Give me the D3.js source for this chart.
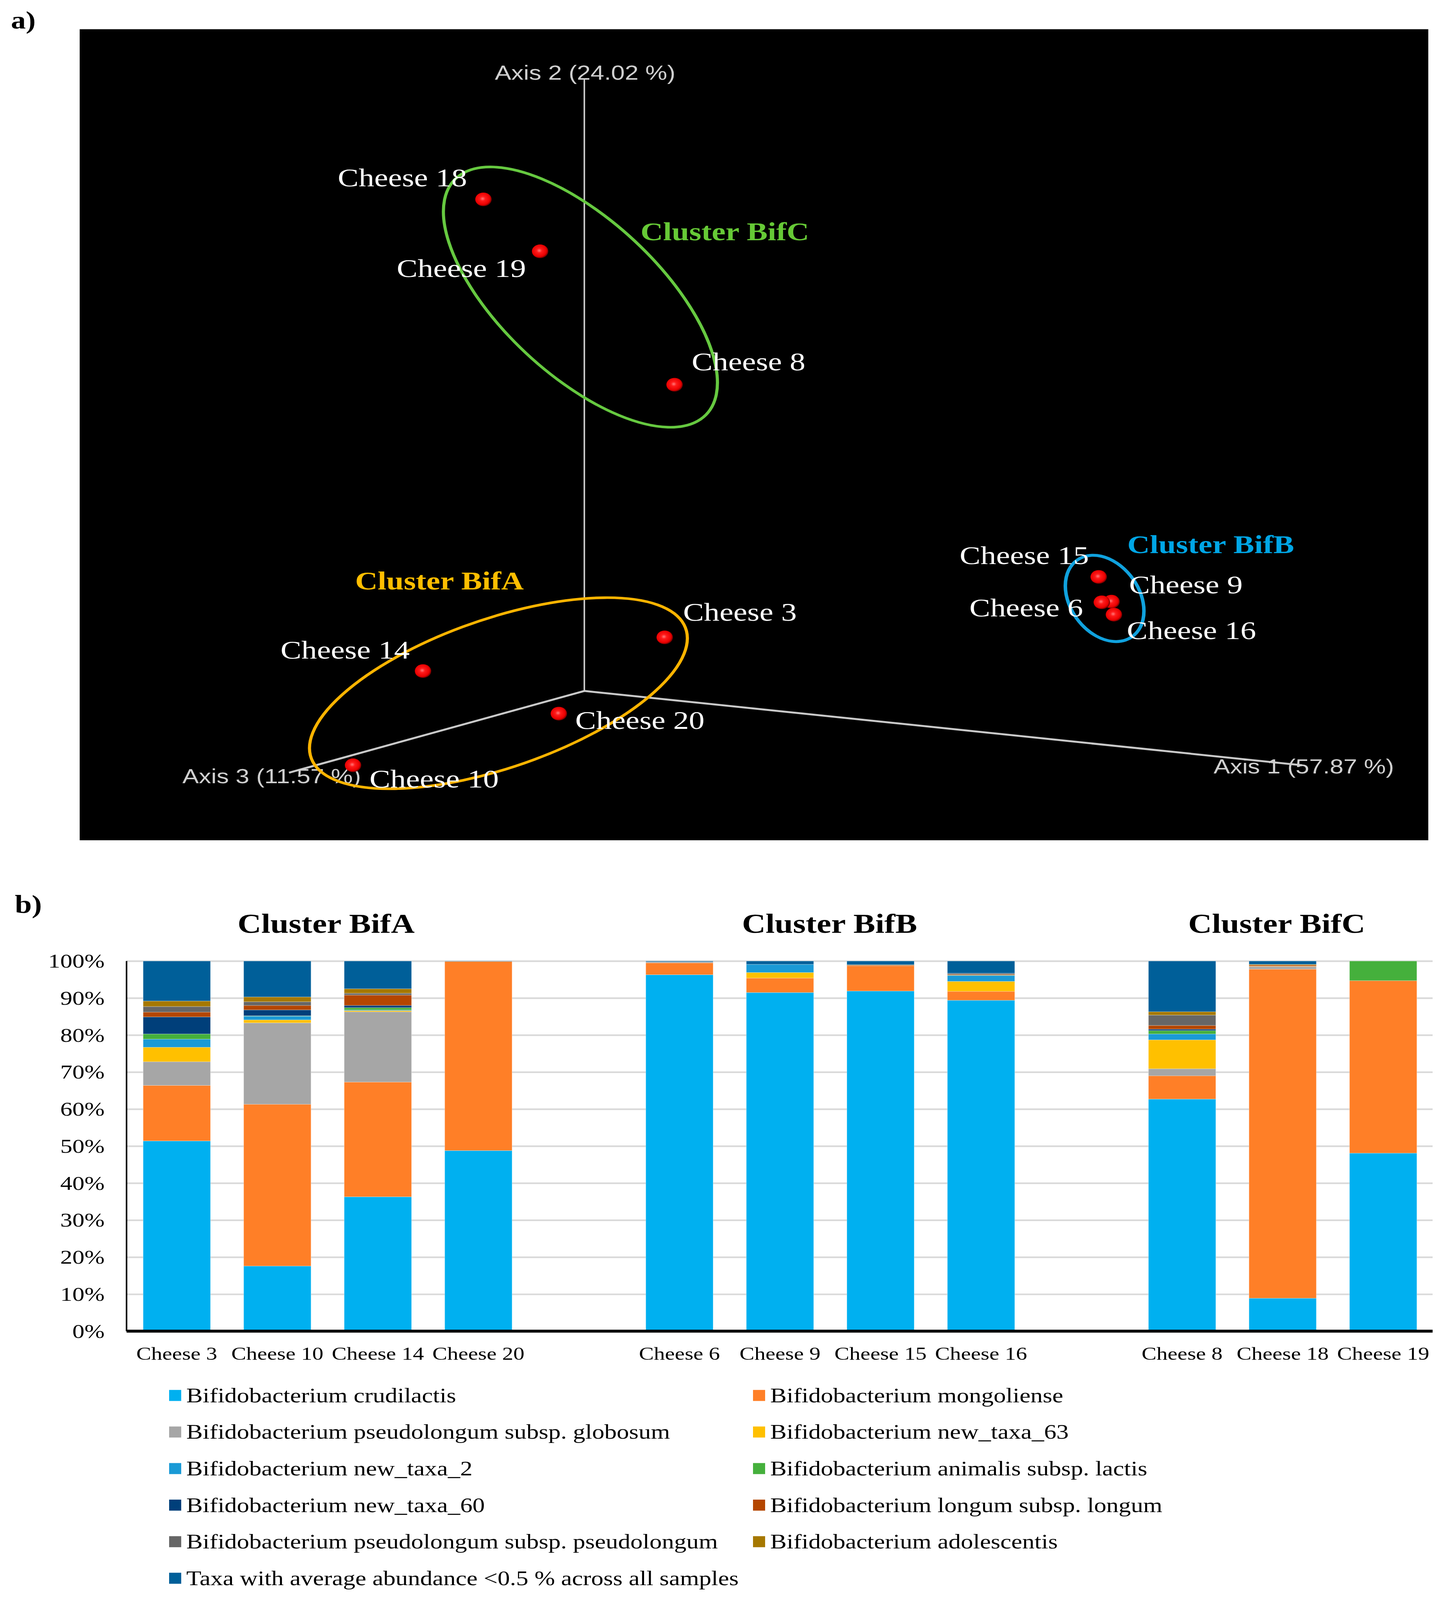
<!DOCTYPE html>
<html>
<head>
<meta charset="utf-8">
<script src="https://cdn.jsdelivr.net/npm/d3@7"></script>
<style>
  html, body { margin: 0; padding: 0; background: #ffffff; overflow: hidden; }
  svg { display: block; }
</style>
</head>
<body>
<svg id="chart"></svg>
<script>
// ---------------- DATA ----------------
// Panel a: PCoA (projected 3-D view), coordinates in projected plot units (0-100)
const pcoaSamples = ["Cheese 18","Cheese 19","Cheese 8","Cheese 15","Cheese 9","Cheese 6","Cheese 16","Cheese 3","Cheese 14","Cheese 20","Cheese 10"];
const pcoaX = [29.94, 34.14, 44.11, 75.56, 76.51, 75.79, 76.69, 43.38, 25.46, 35.53, 20.27];
const pcoaY = [79.02, 72.62, 56.17, 32.47, 29.42, 29.34, 27.82, 25.02, 20.86, 15.61, 9.25];
const axisNames = ["Axis 1 (57.87 %)", "Axis 2 (24.02 %)", "Axis 3 (11.57 %)"];
const axisOrigin = [37.42, 18.41];
const axisEndX = [90.65, 37.42, 15.52];
const axisEndY = [9.25, 93.80, 8.33];
const clusterNames = ["Cluster BifA", "Cluster BifB", "Cluster BifC"];
const clusterCx = [31.05, 76.00, 37.13];
const clusterCy = [18.13, 29.82, 66.97];

// Panel b: relative abundance (%) per taxon, per sample
const samples = ["Cheese 3","Cheese 10","Cheese 14","Cheese 20","Cheese 6","Cheese 9","Cheese 15","Cheese 16","Cheese 8","Cheese 18","Cheese 19"];
const sampleCluster = ["Cluster BifA","Cluster BifA","Cluster BifA","Cluster BifA","Cluster BifB","Cluster BifB","Cluster BifB","Cluster BifB","Cluster BifC","Cluster BifC","Cluster BifC"];
const taxa = [
  "Bifidobacterium crudilactis",
  "Bifidobacterium mongoliense",
  "Bifidobacterium pseudolongum subsp. globosum",
  "Bifidobacterium new_taxa_63",
  "Bifidobacterium new_taxa_2",
  "Bifidobacterium animalis subsp. lactis",
  "Bifidobacterium new_taxa_60",
  "Bifidobacterium longum subsp. longum",
  "Bifidobacterium pseudolongum subsp. pseudolongum",
  "Bifidobacterium adolescentis",
  "Taxa with average abundance <0.5 % across all samples"
];
//                     C3    C10   C14   C20   C6    C9    C15   C16   C8    C18   C19
const crudilactis   = [51.4, 17.6, 36.3, 48.8, 96.3, 91.5, 91.9, 89.4, 62.7,  8.9, 48.1];
const mongoliense   = [15.0, 43.7, 31.0, 51.1,  3.2,  3.9,  6.8,  2.4,  6.3, 88.9, 46.6];
const globosum      = [ 6.4, 22.0, 19.0,  0.0,  0.3,  0.0,  0.0,  0.0,  1.9,  0.7,  0.0];
const newTaxa63     = [ 3.9,  0.8,  0.3,  0.0,  0.0,  1.5,  0.0,  2.7,  7.8,  0.1,  0.0];
const newTaxa2      = [ 2.2,  1.0,  0.2,  0.0,  0.0,  2.2,  0.0,  1.6,  1.6,  0.0,  0.0];
const animalis      = [ 1.4,  0.1,  0.6,  0.0,  0.0,  0.0,  0.0,  0.1,  0.9,  0.0,  5.3];
const newTaxa60     = [ 4.6,  1.6,  0.6,  0.0,  0.0,  0.0,  0.0,  0.0,  0.4,  0.0,  0.0];
const longum        = [ 1.3,  1.2,  2.8,  0.0,  0.0,  0.0,  0.2,  0.2,  1.0,  0.3,  0.0];
const pseudolongum  = [ 1.5,  1.0,  0.5,  0.0,  0.0,  0.0,  0.0,  0.3,  2.8,  0.0,  0.0];
const adolescentis  = [ 1.5,  1.3,  1.2,  0.0,  0.0,  0.0,  0.1,  0.0,  0.9,  0.2,  0.0];
const minorTaxa     = [10.8,  9.7,  7.5,  0.1,  0.2,  0.9,  1.0,  3.3, 13.7,  0.9,  0.0];
const seriesValues = [crudilactis, mongoliense, globosum, newTaxa63, newTaxa2, animalis, newTaxa60, longum, pseudolongum, adolescentis, minorTaxa];
const yTicks = [0, 10, 20, 30, 40, 50, 60, 70, 80, 90, 100];

// ---------------- STYLE / LAYOUT ----------------
const W = 3710, H = 4928;
const taxaColors = ["#00b0f0","#ff7f27","#a6a6a6","#ffc000","#1a9ad6","#45b03c","#003f7a","#b44600","#666666","#a67800","#005f99"];
const clusterColors = {"Cluster BifA": "#ffb400", "Cluster BifB": "#10a2de", "Cluster BifC": "#66c940"};
const clusterTextColors = {"Cluster BifA": "#ffbe00", "Cluster BifB": "#00a6e6", "Cluster BifC": "#66c936"};
const serif = "'Liberation Serif', 'Times New Roman', Times, serif";
const sans = "'Liberation Sans', Arial, Helvetica, sans-serif";

// the drawing is laid out on a 3710x4928 canvas and fitted to the visible window
const viewW = window.innerWidth || W;
const viewH = window.innerHeight || H;
const svg = d3.select("#chart")
  .attr("width", viewW).attr("height", viewH)
  .attr("viewBox", `0 0 ${W} ${H}`)
  .attr("preserveAspectRatio", "none");
svg.append("rect").attr("x", 0).attr("y", 0).attr("width", W).attr("height", H).attr("fill", "#ffffff");

// ================= PANEL a =================
const panelA = {x0: 204, x1: 3657, y0: 90, y1: 2588};
svg.append("text").attr("x", 28).attr("y", 88)
  .attr("font-family", serif).attr("font-weight", "bold").attr("font-size", 76)
  .attr("fill", "#000").text("a)");

svg.append("rect")
  .attr("x", panelA.x0).attr("y", panelA.y0)
  .attr("width", panelA.x1 - panelA.x0).attr("height", panelA.y1 - panelA.y0)
  .attr("fill", "#000");

const px = d3.scaleLinear().domain([0, 100]).range([panelA.x0, panelA.x1]);
const py = d3.scaleLinear().domain([0, 100]).range([panelA.y1, panelA.y0]);

const gA = svg.append("g");

// axes
const axisWidths = [6, 4, 6];
axisNames.forEach((name, i) => {
  gA.append("line")
    .attr("x1", px(axisOrigin[0])).attr("y1", py(axisOrigin[1]))
    .attr("x2", px(axisEndX[i])).attr("y2", py(axisEndY[i]))
    .attr("stroke", "#c9c9c9").attr("stroke-width", axisWidths[i]);
});
// axis labels
const axisLabelPos = [
  {dx: -227, dy: 25, anchor: "start"},
  {dx: 2, dy: 0, anchor: "middle"},
  {dx: -273, dy: 32, anchor: "start"}
];
axisNames.forEach((name, i) => {
  gA.append("text")
    .attr("x", px(axisEndX[i]) + axisLabelPos[i].dx)
    .attr("y", py(axisEndY[i]) + axisLabelPos[i].dy)
    .attr("text-anchor", axisLabelPos[i].anchor)
    .attr("font-family", sans).attr("font-size", 63)
    .attr("fill", "#cfcfcf").text(name);
});

// cluster ellipses
const ellipseShape = {
  "Cluster BifA": {rx: 520, ry: 224, rot: -24, sw: 8},
  "Cluster BifB": {rx: 92, ry: 139, rot: -23, sw: 9},
  "Cluster BifC": {rx: 486, ry: 218, rot: 50.75, sw: 8}
};
clusterNames.forEach((c, i) => {
  const s = ellipseShape[c];
  gA.append("ellipse")
    .attr("cx", 0).attr("cy", 0).attr("rx", s.rx).attr("ry", s.ry)
    .attr("transform", `translate(${px(clusterCx[i])},${py(clusterCy[i])}) rotate(${s.rot})`)
    .attr("fill", "none").attr("stroke", clusterColors[c]).attr("stroke-width", s.sw);
});

// red sphere gradient
const defs = svg.append("defs");
const grad = defs.append("radialGradient").attr("id", "sphere")
  .attr("cx", "45%").attr("cy", "45%").attr("r", "55%");
grad.append("stop").attr("offset", "0%").attr("stop-color", "#ff7a7a");
grad.append("stop").attr("offset", "30%").attr("stop-color", "#ff1a1a");
grad.append("stop").attr("offset", "80%").attr("stop-color", "#e80000");
grad.append("stop").attr("offset", "100%").attr("stop-color", "#700000");

// points
gA.selectAll("circle.pt").data(pcoaSamples).join("circle")
  .attr("class", "pt")
  .attr("cx", (d, i) => px(pcoaX[i]))
  .attr("cy", (d, i) => py(pcoaY[i]))
  .attr("r", 21)
  .attr("fill", "url(#sphere)");

// point labels (offsets in pixels from the point)
const labelOffset = {
  "Cheese 18": [-373, -40], "Cheese 19": [-367, 79], "Cheese 8": [44, -44],
  "Cheese 15": [-356, -39], "Cheese 9": [45, -25], "Cheese 6": [-339, 43],
  "Cheese 16": [33, 75], "Cheese 3": [47, -51], "Cheese 14": [-365, -39],
  "Cheese 20": [42, 47], "Cheese 10": [42, 68]
};
gA.selectAll("text.pl").data(pcoaSamples).join("text")
  .attr("class", "pl")
  .attr("x", (d, i) => px(pcoaX[i]) + labelOffset[d][0])
  .attr("y", (d, i) => py(pcoaY[i]) + labelOffset[d][1])
  .attr("font-family", serif).attr("font-size", 80)
  .attr("fill", "#ffffff").text(d => d);

// cluster labels (offsets from ellipse centre)
const clusterLabelOffset = {"Cluster BifA": [-367, -320], "Cluster BifB": [58, -140], "Cluster BifC": [154, -175]};
clusterNames.forEach((c, i) => {
  gA.append("text")
    .attr("x", px(clusterCx[i]) + clusterLabelOffset[c][0])
    .attr("y", py(clusterCy[i]) + clusterLabelOffset[c][1])
    .attr("font-family", serif).attr("font-weight", "bold").attr("font-size", 80)
    .attr("fill", clusterTextColors[c]).text(c);
});

// ================= PANEL b =================
svg.append("text").attr("x", 38).attr("y", 2812)
  .attr("font-family", serif).attr("font-weight", "bold").attr("font-size", 78)
  .attr("fill", "#000").text("b)");

const plot = {x0: 324, x1: 3668, y0: 2960, y1: 4100};
const slots = ["Cheese 3","Cheese 10","Cheese 14","Cheese 20","gapA","Cheese 6","Cheese 9","Cheese 15","Cheese 16","gapB","Cheese 8","Cheese 18","Cheese 19"];
const x = d3.scaleBand().domain(slots).range([plot.x0, plot.x0 + 13 * 257.4])
  .paddingInner(0.33).paddingOuter(0.165);
const y = d3.scaleLinear().domain([0, 100]).range([plot.y1, plot.y0]);

const gB = svg.append("g");

// gridlines
gB.append("g")
  .attr("transform", `translate(${plot.x0},0)`)
  .call(d3.axisLeft(y).tickValues(yTicks).tickSize(-(plot.x1 - plot.x0)).tickFormat(""))
  .call(g => g.select(".domain").remove())
  .call(g => g.selectAll(".tick line").attr("stroke", "#d9d9d9").attr("stroke-width", 5));

// stacked bars
const table = samples.map((s, i) => {
  const row = {sample: s};
  taxa.forEach((t, k) => { row[t] = seriesValues[k][i]; });
  return row;
});
const stack = d3.stack().keys(taxa)(table);
const color = d3.scaleOrdinal().domain(taxa).range(taxaColors);

gB.append("g").selectAll("g").data(stack).join("g")
  .attr("fill", d => color(d.key))
  .selectAll("rect").data(d => d).join("rect")
  .attr("x", d => x(d.data.sample))
  .attr("width", x.bandwidth())
  .attr("y", d => y(d[1]))
  .attr("height", d => Math.max(0, y(d[0]) - y(d[1])))
  .attr("stroke", d => (d[1] - d[0]) > 0 ? "rgba(255,255,255,0.35)" : "none")
  .attr("stroke-width", 1.5);

// y axis labels
gB.append("g")
  .attr("transform", `translate(${plot.x0},0)`)
  .call(d3.axisLeft(y).tickValues(yTicks).tickSize(0).tickPadding(56).tickFormat(d => d + "%"))
  .call(g => g.select(".domain").remove())
  .call(g => g.selectAll("text").attr("font-family", serif).attr("font-size", 62).attr("fill", "#000"));

// y axis line
gB.append("line").attr("x1", plot.x0).attr("x2", plot.x0)
  .attr("y1", plot.y0).attr("y2", plot.y1)
  .attr("stroke", "#000").attr("stroke-width", 4);

// x axis (baseline + labels)
gB.append("g")
  .attr("transform", `translate(0,${plot.y1})`)
  .call(d3.axisBottom(x).tickSize(0).tickPadding(48).tickFormat(d => d.startsWith("gap") ? "" : d))
  .call(g => g.select(".domain").attr("d", `M${plot.x0},0H${plot.x1}`).attr("stroke", "#000").attr("stroke-width", 9))
  .call(g => g.selectAll("text").attr("font-family", serif).attr("font-size", 57).attr("fill", "#000"));

// cluster titles
const clusterTitleX = {"Cluster BifA": 835, "Cluster BifB": 2124, "Cluster BifC": 3269};
clusterNames.forEach(c => {
  gB.append("text")
    .attr("x", clusterTitleX[c]).attr("y", 2873)
    .attr("text-anchor", "middle")
    .attr("font-family", serif).attr("font-weight", "bold").attr("font-size", 84)
    .attr("fill", "#000").text(c);
});

// legend
const legend = {x0: 433, colStep: 1495, y0: 4298, rowStep: 112.6, sw: 31, sh: 34, textDx: 44};
const lg = gB.append("g");
taxa.forEach((t, i) => {
  const col = i % 2, row = Math.floor(i / 2);
  const lx = legend.x0 + col * legend.colStep;
  const ly = legend.y0 + row * legend.rowStep;
  lg.append("rect").attr("x", lx).attr("y", ly - legend.sh / 2)
    .attr("width", legend.sw).attr("height", legend.sh).attr("fill", color(t));
  lg.append("text").attr("x", lx + legend.textDx).attr("y", ly + 21)
    .attr("font-family", serif).attr("font-size", 63).attr("fill", "#000").text(t);
});
</script>
</body>
</html>
